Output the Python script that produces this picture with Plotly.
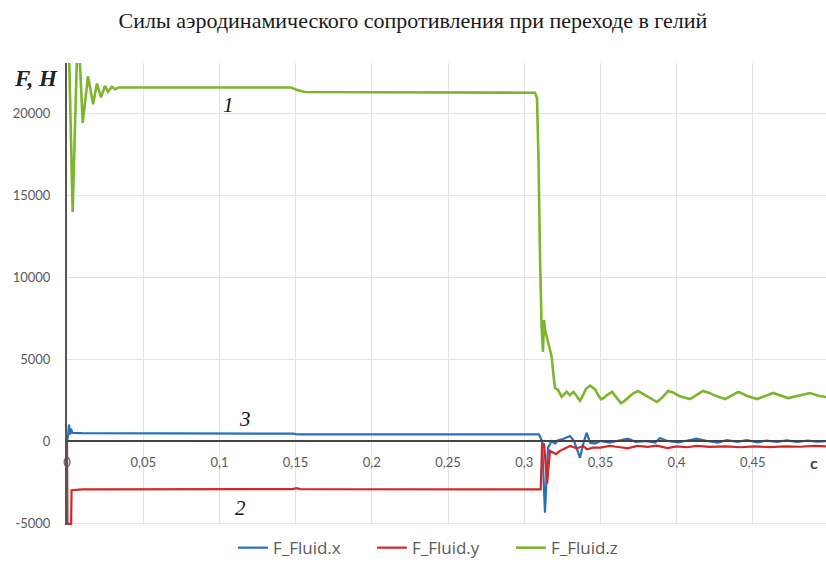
import plotly.graph_objects as go

# --- data: time in seconds, force in newtons -------------------------------
t_z = [0.0, 0.0008, 0.0015, 0.0037, 0.0064, 0.0075, 0.0085, 0.0103, 0.0138,
       0.0171, 0.0197, 0.0223, 0.0249, 0.0269, 0.0295, 0.0315, 0.0341, 0.08,
       0.12, 0.147, 0.151, 0.156, 0.2, 0.25, 0.3, 0.3071, 0.3084, 0.3094,
       0.3104, 0.3114, 0.3123, 0.313, 0.3136, 0.3158, 0.318, 0.3192, 0.3202,
       0.3222, 0.3246, 0.3262, 0.3279, 0.33, 0.3322, 0.3344, 0.3366, 0.3386,
       0.3406, 0.3432, 0.3465, 0.3485, 0.3504, 0.3525, 0.3543, 0.3576,
       0.3605, 0.3635, 0.3658, 0.3681, 0.3714, 0.3747, 0.3776, 0.3806,
       0.3871, 0.3905, 0.3944, 0.3980, 0.4016, 0.4088, 0.4130, 0.4173,
       0.4210, 0.4245, 0.4318, 0.4360, 0.4403, 0.4430, 0.4462, 0.4528,
       0.4580, 0.4633, 0.4731, 0.481, 0.4875, 0.4930, 0.498, 0.5]
f_z = [26000, 26500, 23000, 13960, 23000, 26000, 23000, 19400, 22250,
       20540, 21800, 20950, 21650, 21300, 21600, 21450, 21560, 21570,
       21570, 21560, 21400, 21280, 21270, 21250, 21240, 21240, 20900, 17000,
       11000, 7000, 5440, 7380, 6800, 5970, 5140, 4000, 3230,
       3110, 2700, 2850, 3000, 2800, 3000, 2750, 2450, 2800,
       3200, 3380, 3150, 2800, 2550, 2650, 2800, 3000,
       2650, 2300, 2450, 2650, 2900, 3050, 2900, 2700,
       2380, 2650, 3050, 2950, 2750, 2560, 2800, 3050,
       2950, 2800, 2560, 2750, 2990, 2900, 2750, 2560,
       2750, 2930, 2620, 2800, 2930, 2760, 2680, 2650]

t_x = [0.0, 0.0007, 0.0013, 0.002, 0.0026, 0.0036, 0.01, 0.05, 0.148, 0.152,
       0.25, 0.3097, 0.3117, 0.3136, 0.3156, 0.318, 0.3202, 0.3222, 0.3255,
       0.33, 0.3327, 0.3366, 0.3392, 0.341, 0.3432, 0.3465,
       0.350, 0.356, 0.363, 0.368, 0.373, 0.379, 0.386, 0.389, 0.394, 0.401,
       0.408, 0.413, 0.420, 0.427, 0.433, 0.440, 0.446, 0.453, 0.459, 0.466,
       0.472, 0.479, 0.486, 0.492, 0.5]
f_x = [0, 300, 1000, 400, 750, 500, 480, 460, 450, 400,
       400, 400, 0, -4370, -400, 0, -150, 50, 120,
       300, 0, -1020, 0, 500, -100, -150,
       0, -100, 50, 150, -50, 0, -100, 180, 0, -80,
       50, 150, 0, -100, 60, -50, 50, -80, 30, -60,
       40, -50, 20, -40, 0]

t_y = [0.0, 0.0003, 0.0027, 0.003, 0.01, 0.148, 0.1505, 0.153, 0.309, 0.3108,
       0.3117, 0.313, 0.315, 0.3169, 0.3189, 0.3209, 0.3235, 0.3255, 0.33,
       0.3346, 0.3386, 0.3412, 0.3451,
       0.350, 0.356, 0.363, 0.368, 0.374, 0.381, 0.387, 0.394, 0.400, 0.407,
       0.413, 0.422, 0.432, 0.442, 0.451, 0.461, 0.471, 0.481, 0.491, 0.5]
f_y = [0, -5050, -5050, -3000, -2950, -2930, -2870, -2930, -2950, -2950,
       -300, -150, -2600, -600, -700, -800, -600, -500, -300,
       -450, -300, -500, -400,
       -400, -300, -380, -450, -300, -350, -280, -430, -330, -380,
       -300, -360, -320, -380, -330, -370, -320, -350, -300, -330]

x_ticks = [0, 0.05, 0.1, 0.15, 0.2, 0.25, 0.3, 0.35, 0.4, 0.45]
x_labels = ["0", "0,05", "0,1", "0,15", "0,2", "0,25", "0,3", "0,35", "0,4", "0,45"]
y_ticks = [-5000, 0, 5000, 10000, 15000, 20000]
y_labels = ["-5000", "0", "5000", "10000", "15000", "20000"]

series = [
    ("F_Fluid.x", t_x, f_x, "#2a6ebd", 2.2),
    ("F_Fluid.y", t_y, f_y, "#d0282a", 2.2),
    ("F_Fluid.z", t_z, f_z, "#7db52f", 2.6),
]

Y_MIN, Y_MAX = -5120, 23050
X_MAX = 0.498
zero_pos = (0 - Y_MIN) / (Y_MAX - Y_MIN)

fig = go.Figure()
for name, t, f, color, width in series:
    fig.add_trace(go.Scatter(x=t, y=f, mode="lines", name=name,
                             line=dict(color=color, width=width)))

tick_font = dict(family="Lato", size=13, color="#5a5a5a")
serif = "Liberation Serif"

fig.update_layout(
    width=826, height=574,
    margin=dict(l=67, r=0, t=63, b=49),
    paper_bgcolor="white", plot_bgcolor="white",
    title=dict(text="Силы аэродинамического сопротивления при переходе в гелий",
               x=0.5, xref="container", xanchor="center",
               y=0.965, yref="container", yanchor="middle",
               font=dict(family=serif, size=22, color="#1a1a1a")),
    xaxis=dict(range=[0, X_MAX], tickvals=x_ticks, ticktext=x_labels,
               anchor="free", position=zero_pos,
               showgrid=True, gridcolor="#e3e3e3", gridwidth=1,
               showline=True, linecolor="#444444", linewidth=2,
               zeroline=False, ticks="outside", ticklen=9,
               tickcolor="rgba(0,0,0,0)", tickfont=tick_font),
    yaxis=dict(range=[Y_MIN, Y_MAX], tickvals=y_ticks, ticktext=y_labels,
               showgrid=True, gridcolor="#e3e3e3", gridwidth=1,
               showline=True, linecolor="#555555", linewidth=2,
               zeroline=False, ticks="outside", ticklen=12,
               tickcolor="rgba(0,0,0,0)", tickfont=tick_font),
    legend=dict(orientation="h", x=0.2186, xanchor="left", y=-0.05,
                yanchor="middle", font=dict(family="Open Sans", size=17,
                                            color="#5a5a5a"),
                entrywidth=94, entrywidthmode="pixels",
                itemwidth=30, bgcolor="rgba(0,0,0,0)"),
    showlegend=True,
)

# axis captions and curve numbers
fig.add_annotation(text="<b><i>F, Н</i></b>", xref="paper", yref="paper",
                   x=-0.073, y=1.0, xanchor="left", yanchor="top", yshift=-1,
                   showarrow=False,
                   font=dict(family=serif, size=23, color="#222222"))
fig.add_annotation(text="<b>с</b>", x=0.49, y=0, xref="x", yref="y",
                   yshift=-21, showarrow=False,
                   font=dict(family="Lato", size=16, color="#444444"))
for label, tx, fy in [("1", 0.106, 20500), ("3", 0.117, 1350), ("2", 0.114, -4100)]:
    fig.add_annotation(text=f"<i>{label}</i>", x=tx, y=fy, xref="x", yref="y",
                       showarrow=False,
                       font=dict(family=serif, size=21, color="#111111"))

fig.write_html("out.html")
